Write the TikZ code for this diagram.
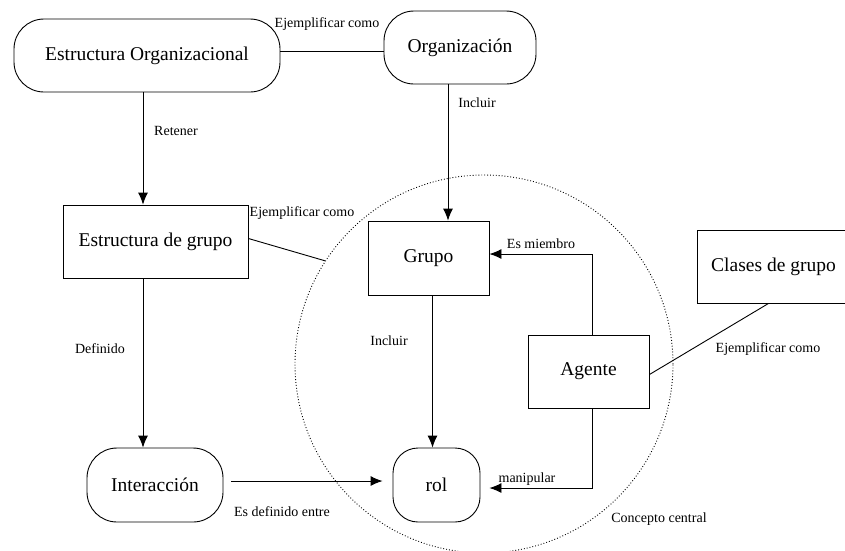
\documentclass[tikz,border=0pt]{standalone}
\usepackage{fontspec}
\setmainfont{Liberation Serif}
\newfontfamily\tnr{Liberation Serif}
\usetikzlibrary{arrows.meta}
\newcommand\grande{\tnr\fontsize{19.5}{23}\selectfont}
\newcommand\chica{\tnr\fontsize{14}{16}\selectfont}
\tikzset{
  concepto/.style={draw, line width=0.9pt, font=\grande, inner sep=0pt},
  pildora/.style={concepto, rounded corners=30pt},
  caja/.style={concepto},
  etiq/.style={font=\chica, inner sep=0pt},
}
\begin{document}
\begin{tikzpicture}[x=1pt, y=-1pt, >={Latex[length=12pt,width=10pt]}, line width=0.9pt]
    \useasboundingbox (0,0) rectangle (845,550);
    % conceptos
    \node [draw, circle, dotted, line width=0.9pt, minimum size=378pt] (centro) at (484,364) {};
    \node [pildora, minimum width=266pt, minimum height=73pt] (estorg) at (147,55.5) {Estructura Organizacional};
    \node [pildora, minimum width=152pt, minimum height=73pt] (org) at (460,47.5) {Organización};
    \node [caja, minimum width=185pt, minimum height=73pt] (estgrp) at (155.5,241.5) {Estructura de grupo};
    \node [caja, minimum width=121pt, minimum height=74pt] (grupo) at (428.5,258) {Grupo};
    \node [pildora, rounded corners=25pt, minimum width=87pt, minimum height=74pt] (rol) at (436.5,485) {rol};
    \node [caja, minimum width=121pt, minimum height=73pt] (agente) at (588.5,371.5) {Agente};
    \node [caja, minimum width=153pt, minimum height=73pt] (clases) at (773.5,266.5) {Clases de grupo};
    \node [pildora, minimum width=136pt, minimum height=74pt] (inter) at (155,485) {Interacción};
    % relaciones
    \draw ([yshift=4pt]estorg.east) -- ([yshift=-4pt]org.west);
    \draw [->] ([xshift=-4pt]estorg.south) -- ([xshift=-4pt]estorg.south |- estgrp.north);
    \draw [->] ([xshift=-12pt]org.south) -- ([xshift=-12pt]org.south |- grupo.north);
    \draw ([yshift=3pt]estgrp.east) -- (centro.147);
    \draw [->] ([xshift=-12.5pt]estgrp.south) -- ([xshift=-12.5pt]estgrp.south |- inter.north);
    \draw [->] ([xshift=4pt]grupo.south) -- ([xshift=4pt]grupo.south |- rol.north);
    \draw [->] ([xshift=4pt]agente.north) |- ([yshift=4pt]grupo.east);
    \draw [->, shorten >=9pt] ([xshift=4pt]agente.south) |- ([yshift=-3pt]rol.east);
    \draw ([yshift=-3pt]agente.east) -- ([xshift=-5pt]clases.south);
    \draw [->, shorten <=8pt, shorten >=10pt] ([yshift=4pt]inter.east) -- ([yshift=4pt]rol.west);
    % etiquetas
    \node [etiq] (e-ejem1) at (327,24) {Ejemplificar como};
    \node [etiq] (e-retener) at (176,131) {Retener};
    \node [etiq] (e-incluir1) at (477,103) {Incluir};
    \node [etiq] (e-ejem2) at (302,213) {Ejemplificar como};
    \node [etiq] (e-definido) at (100,349) {Definido};
    \node [etiq] (e-entre) at (282,512) {Es definido entre};
    \node [etiq] (e-incluir2) at (389,341) {Incluir};
    \node [etiq] (e-miembro) at (541,244) {Es miembro};
    \node [etiq] (e-manip) at (527,479) {manipular};
    \node [etiq] (e-ejem3) at (768,349) {Ejemplificar como};
    \node [etiq] (e-central) at (659,519) {Concepto central};
\end{tikzpicture}
\end{document}
